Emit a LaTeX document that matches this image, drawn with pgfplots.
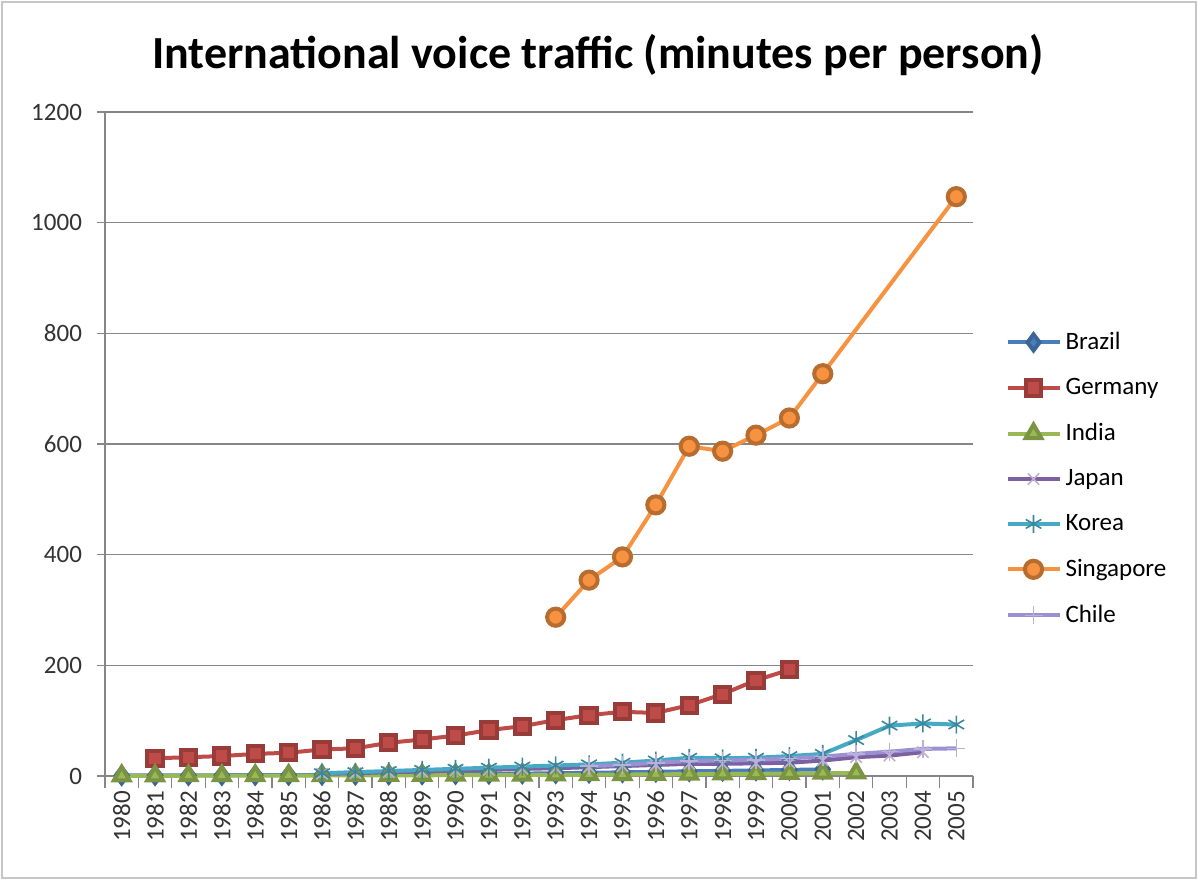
\documentclass[border=0pt]{standalone}
\usepackage{pgfplots}
\pgfplotsset{compat=1.18}
\usepackage{pgfplotstable}
\usepackage{fontspec}
\setmainfont{Carlito}
\usetikzlibrary{plotmarks}
\definecolor{cBrazil}{HTML}{4A7EBB}
\definecolor{cGermany}{HTML}{BE4B48}
\definecolor{cIndia}{HTML}{98B954}
\definecolor{cJapan}{HTML}{7D60A0}
\definecolor{cKorea}{HTML}{46AAC5}
\definecolor{cSing}{HTML}{F69240}
\definecolor{cChile}{HTML}{9A90D2}
\definecolor{gridc}{HTML}{868686}

\pgfplotstableread{
year v
1980 1.0
1981 1.2
1982 1.3
1983 1.4
1984 1.5
1985 1.7
1986 1.9
1987 2.2
1988 2.5
1989 2.9
1990 3.3
1991 3.8
1992 4.3
1993 5.0
1994 5.8
1995 6.6
1996 7.5
1997 8.5
1998 9.3
1999 10.0
2000 11.0
2001 12.0
}\brazil
\pgfplotstableread{
year v
1981 32
1982 34
1983 36
1984 40
1985 42
1986 48
1987 50
1988 60
1989 66
1990 73
1991 83
1992 90
1993 101
1994 110
1995 116
1996 114
1997 128
1998 148
1999 173
2000 192
}\germany
\pgfplotstableread{
year v
1980 0.3
1981 0.4
1982 0.5
1983 0.6
1984 0.7
1985 0.8
1986 0.9
1987 1.0
1988 1.2
1989 1.3
1990 1.5
1991 1.6
1992 1.8
1993 2.0
1994 2.3
1995 2.6
1996 3.0
1997 3.4
1998 3.8
1999 4.2
2000 4.6
2001 5.0
2002 5.5
}\india
\pgfplotstableread{
year v
1986 4
1987 5
1988 7
1989 8
1990 10
1991 11
1992 13
1993 14
1994 16
1995 18
1996 20
1997 22
1998 22
1999 23
2000 24
2001 28
2002 34
2003 37
2004 43
}\japan
\pgfplotstableread{
year v
1986 5
1987 7
1988 9
1989 11
1990 13
1991 15
1992 17
1993 19
1994 21
1995 24
1996 28
1997 33
1998 32
1999 33
2000 36
2001 40
2002 65
2003 91
2004 95
2005 93
}\korea
\pgfplotstableread{
year v
1993 287
1994 354
1995 396
1996 490
1997 596
1998 587
1999 616
2000 647
2001 727
2005 1047
}\singapore
\pgfplotstableread{
year v
1994 18
1995 20
1996 24
1997 27
1998 28
1999 29
2000 32
2001 35
2002 40
2003 44
2004 49
2005 50
}\chile

\begin{document}
\begin{tikzpicture}
\useasboundingbox (-52.5pt,-52pt) rectangle (546.5pt,388pt);
\draw[gray!45, line width=1.2pt] (-51.5pt,-51pt) rectangle (545.5pt,387pt);
\begin{axis}[
  at={(0,0)}, anchor=south west,
  scale only axis, width=434pt, height=332pt,
  xmin=-0.5, xmax=25.5, ymin=0, ymax=1200,
  axis x line=bottom, axis y line=left,
  axis line style={-, gridc, line width=0.8pt},
  xtick={0,...,25},
  xticklabels={1980,1981,1982,1983,1984,1985,1986,1987,1988,1989,1990,1991,1992,1993,1994,1995,1996,1997,1998,1999,2000,2001,2002,2003,2004,2005},
  minor xtick={-0.5,0.5,...,25.5},
  major x tick style={draw=none},
  minor x tick style={gridc, line width=0.6pt},
  minor tick length=6pt,
  ytick={0,200,...,1200},
  major tick length=4pt,
  y tick style={gridc, line width=0.6pt},
  tick align=outside,
  ymajorgrids, grid style={gridc, line width=0.8pt},
  x tick label style={rotate=90, anchor=east, font=\fontsize{12.5}{14}\selectfont, text=black!80},
  y tick label style={font=\fontsize{12.5}{14}\selectfont, text=black!80, xshift=-4pt},
  /pgf/number format/assume math mode=true,
  /pgf/number format/1000 sep={},
  legend style={at={(1.037,0.675)}, anchor=north west, draw=none, fill=none,
    font=\fontsize{12.5}{14}\selectfont, row sep=8.9pt, inner sep=0pt},
  legend cell align=left,
  legend image code/.code={
    \draw[#1, mark=none] (0pt,0pt) -- (26pt,0pt);
    \draw[#1, only marks] plot coordinates {(13pt,0pt)};
  },
  every axis plot/.append style={line width=2pt, mark options={solid, line width=0.6pt}},
  clip=false,
]
\addplot[cBrazil, mark=diamond*, mark size=4pt, mark options={fill=cBrazil, draw=cBrazil!80!black}] table[x expr=\thisrow{year}-1980, y=v] {\brazil};
\addlegendentry{Brazil}
\addplot[cGermany, mark=square*, mark size=3.8pt, mark options={fill=cGermany, draw=cGermany!80!black}] table[x expr=\thisrow{year}-1980, y=v] {\germany};
\addlegendentry{Germany}
\addplot[cIndia, mark=triangle*, mark size=4.5pt, mark options={fill=cIndia, draw=cIndia!80!black}] table[x expr=\thisrow{year}-1980, y=v] {\india};
\addlegendentry{India}
\addplot[cJapan, mark=x, mark size=4pt, mark options={draw=cJapan!50!white, line width=0.8pt}] table[x expr=\thisrow{year}-1980, y=v] {\japan};
\addlegendentry{Japan}
\addplot[cKorea, mark=asterisk, mark size=4.5pt, mark options={draw=cKorea!80!black, line width=0.8pt}] table[x expr=\thisrow{year}-1980, y=v] {\korea};
\addlegendentry{Korea}
\addplot[cSing, mark=*, mark size=4.3pt, mark options={fill=cSing, draw=cSing!75!black}] table[x expr=\thisrow{year}-1980, y=v] {\singapore};
\addlegendentry{Singapore}
\addplot[cChile, mark=+, mark size=4.5pt, mark options={draw=cChile!70!white, line width=0.8pt}] table[x expr=\thisrow{year}-1980, y=v] {\chile};
\addlegendentry{Chile}
\end{axis}
\node at (246.5pt,360.5pt) {\bfseries\fontsize{23}{27}\selectfont International voice traffic (minutes per person)};
\end{tikzpicture}
\end{document}
